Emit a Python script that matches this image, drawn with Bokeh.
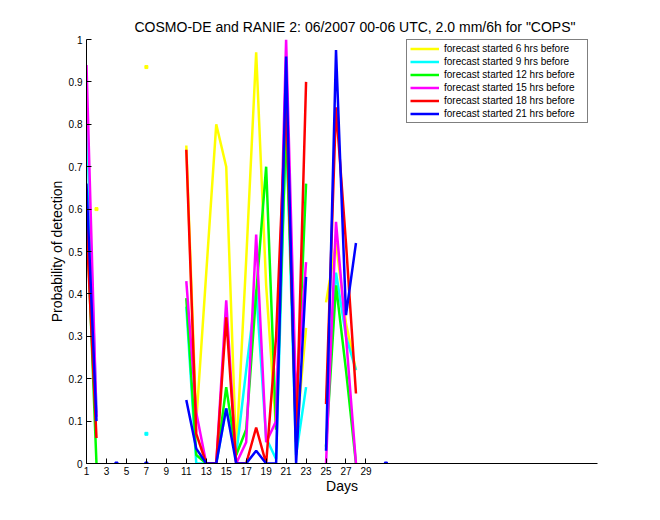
import math
from bokeh.plotting import figure
from bokeh.models import FixedTicker, Range1d
from bokeh.embed import file_html
from bokeh.resources import INLINE

nan = float("nan")

days = list(range(1, 32))

series_labels = [
    "forecast started 6 hrs before",
    "forecast started 9 hrs before",
    "forecast started 12 hrs before",
    "forecast started 15 hrs before",
    "forecast started 18 hrs before",
    "forecast started 21 hrs before",
]
series_colors = ["#ffff00", "#00ffff", "#00ff00", "#ff00ff", "#ff0000", "#0000ff"]

yellow = [nan, 0.60, nan, nan, nan, nan, 0.935, nan, nan, nan,
          0.75, 0.10, 0.45, 0.80, 0.70, 0.02, 0.48, 0.97, 0.42, 0.08,
          0.85, 0.06, 0.32, nan, 0.38, 0.52, 0.33, 0.22, nan, nan, nan]
cyan = [0.82, 0.12, nan, nan, nan, nan, 0.07, nan, nan, nan,
        0.37, 0.00, 0.00, 0.00, 0.13, 0.02, 0.22, 0.41, 0.06, 0.01,
        0.80, 0.02, 0.18, nan, 0.15, 0.45, 0.30, 0.22, nan, nan, nan]
green = [0.60, 0.00, nan, nan, nan, nan, nan, nan, nan, nan,
         0.39, 0.02, 0.00, 0.00, 0.18, 0.02, 0.08, 0.40, 0.70, 0.08,
         0.80, 0.10, 0.66, nan, 0.04, 0.42, 0.22, 0.00, nan, nan, nan]
magenta = [0.94, 0.11, nan, nan, nan, nan, nan, nan, nan, nan,
           0.43, 0.12, 0.00, 0.00, 0.385, 0.00, 0.05, 0.54, 0.05, 0.10,
           1.00, 0.15, 0.475, nan, 0.00, 0.57, 0.30, 0.00, nan, nan, nan]
red = [0.56, 0.06, nan, nan, nan, nan, nan, nan, nan, nan,
       0.74, 0.07, 0.00, 0.00, 0.345, 0.00, 0.00, 0.085, 0.00, 0.30,
       0.86, 0.05, 0.90, nan, 0.14, 0.84, 0.52, 0.165, nan, nan, nan]
blue = [0.66, 0.10, nan, 0.00, nan, nan, 0.00, nan, nan, nan,
        0.15, 0.035, 0.00, 0.00, 0.13, 0.00, 0.00, 0.03, 0.00, 0.00,
        0.96, 0.00, 0.44, nan, 0.03, 0.975, 0.35, 0.52, nan, nan, 0.00]

series_values = [yellow, cyan, green, magenta, red, blue]

x_ticks = list(range(1, 30, 2))
y_ticks = [0, 0.1, 0.2, 0.3, 0.4, 0.5, 0.6, 0.7, 0.8, 0.9, 1]
y_tick_labels = ["0", "0.1", "0.2", "0.3", "0.4", "0.5", "0.6", "0.7", "0.8", "0.9", "1"]

FONT = "Liberation Sans"

p = figure(width=660, height=520, x_range=Range1d(1, 52.2), y_range=Range1d(0, 1),
           output_backend="svg", toolbar_location=None,
           min_border_left=86, min_border_right=63, min_border_top=39, min_border_bottom=57)

p.title.text = 'COSMO-DE and RANIE 2: 06/2007 00-06 UTC, 2.0 mm/6h for "COPS"'
p.title.align = "left"
p.title.offset = 48
p.title.text_font = FONT
p.title.text_font_size = "14px"
p.title.text_font_style = "normal"
p.title.text_color = "black"

p.outline_line_color = None
p.xgrid.grid_line_color = None
p.ygrid.grid_line_color = None
p.background_fill_color = "white"
p.border_fill_color = "white"

for vals, col, lab in zip(series_values, series_colors, series_labels):
    p.line(days, vals, line_color=col, line_width=2.5, legend_label=lab)

# isolated points (no valid neighbours) drawn as small dots
for vals, col in zip(series_values, series_colors):
    xs, ys = [], []
    n = len(vals)
    for i, v in enumerate(vals):
        if math.isnan(v):
            continue
        left = vals[i - 1] if i > 0 else nan
        right = vals[i + 1] if i < n - 1 else nan
        if math.isnan(left) and math.isnan(right):
            xs.append(days[i])
            ys.append(v)
    if xs:
        p.scatter(xs, ys, marker="square", size=3, fill_color=col, line_color=col)

for ax in (p.xaxis[0], p.yaxis[0]):
    ax.major_tick_in = 5
    ax.major_tick_out = 0
    ax.minor_tick_line_color = None
    ax.axis_line_color = "black"
    ax.major_tick_line_color = "black"
    ax.major_label_text_font = FONT
    ax.major_label_text_font_size = "10px"
    ax.major_label_text_color = "black"
    ax.axis_label_text_font = FONT
    ax.axis_label_text_font_size = "14px"
    ax.axis_label_text_font_style = "normal"
    ax.axis_label_text_color = "black"

p.xaxis.ticker = FixedTicker(ticks=x_ticks)
p.xaxis.axis_label = "Days"
p.xaxis.major_label_standoff = 3
p.xaxis.axis_label_standoff = 0

p.yaxis.ticker = FixedTicker(ticks=y_ticks)
p.yaxis.major_label_overrides = {t: s for t, s in zip(y_ticks, y_tick_labels)}
p.yaxis.axis_label = "Probability of detection"
p.yaxis.major_label_standoff = 4
p.yaxis.axis_label_standoff = 1

lg = p.legend[0]
lg.location = (320, 340)
lg.border_line_color = "black"
lg.border_line_width = 1
lg.background_fill_color = "white"
lg.background_fill_alpha = 1
lg.padding = 3
lg.spacing = 2
lg.margin = 0
lg.glyph_width = 29
lg.glyph_height = 11
lg.label_height = 11
lg.label_width = 140
lg.label_standoff = 5
lg.label_text_font = FONT
lg.label_text_font_size = "10px"
lg.label_text_color = "black"

open("out.html", "w").write(file_html(p, INLINE))
